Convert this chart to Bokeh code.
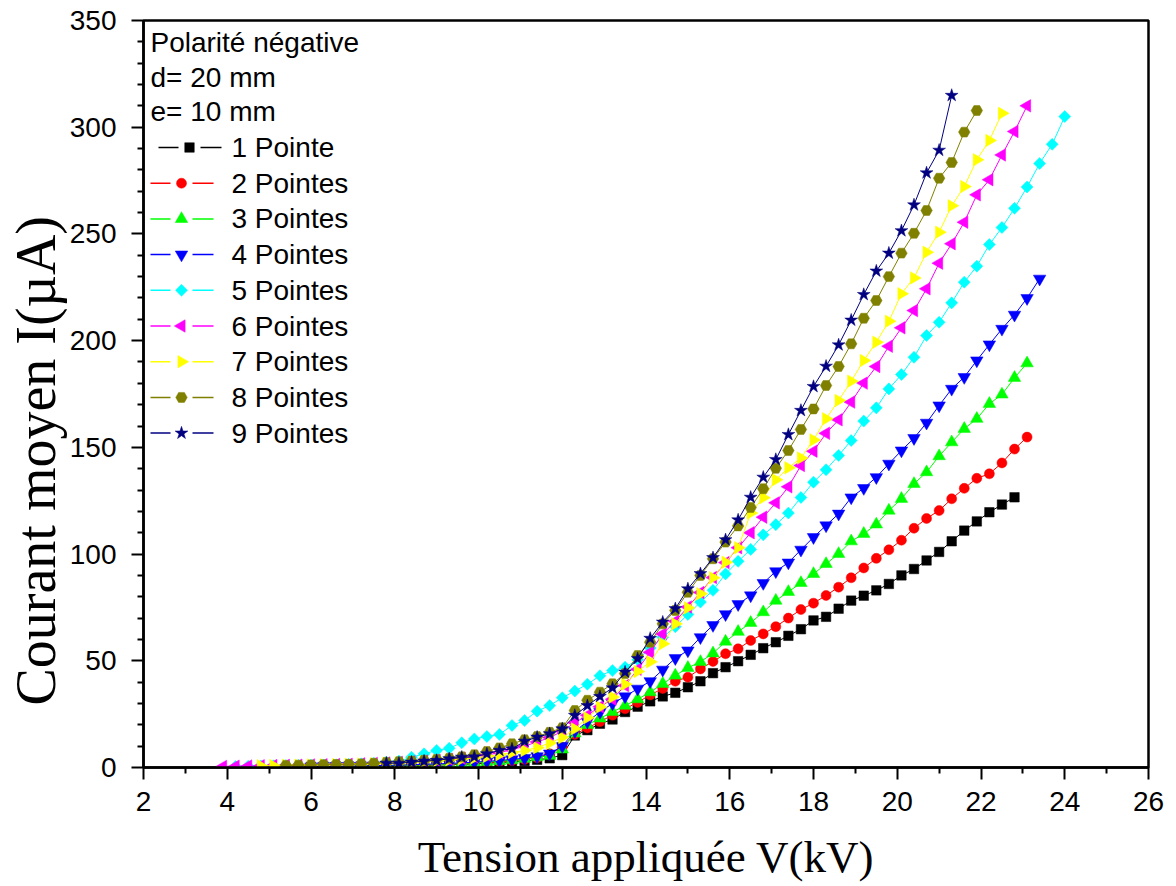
import math
from bokeh.plotting import figure
from bokeh.models import Range1d, FixedTicker, Label, Title
from bokeh.embed import file_html
from bokeh.resources import INLINE

# ---------------- data ----------------
TENSION_KV = [3.9, 4.2, 4.5, 4.8, 5.1, 5.4, 5.7, 6.0, 6.3, 6.6, 6.9, 7.2, 7.5, 7.8,
              8.1, 8.4, 8.7, 9.0, 9.3, 9.6, 9.9, 10.2, 10.5, 10.8, 11.1, 11.4, 11.7,
              12.0, 12.3, 12.6, 12.9, 13.2, 13.5, 13.8, 14.1, 14.4, 14.7, 15.0, 15.3,
              15.6, 15.9, 16.2, 16.5, 16.8, 17.1, 17.4, 17.7, 18.0, 18.3, 18.6, 18.9,
              19.2, 19.5, 19.8, 20.1, 20.4, 20.7, 21.0, 21.3, 21.6, 21.9, 22.2, 22.5,
              22.8, 23.1, 23.4, 23.7, 24.0]

SERIES_NAMES = ["1 Pointe", "2 Pointes", "3 Pointes", "4 Pointes", "5 Pointes",
                "6 Pointes", "7 Pointes", "8 Pointes", "9 Pointes"]
FIRST_KV = [6.0, 6.0, 6.0, 6.0, 4.2, 3.9, 4.8, 5.4, 7.8]

I_1 = [0.3, 0.4, 0.4, 0.5, 0.5, 0.6, 0.7, 0.8, 0.9, 1.0,
       1.1, 1.3, 1.5, 1.7, 2.0, 2.3, 2.7, 3.1, 3.6, 4.3,
       5.8, 15.0, 17.5, 20.5, 22.5, 26.0, 28.5, 31.0, 33.3, 35.0,
       37.6, 40.4, 44.2, 47.0, 49.8, 52.8, 55.9, 58.7, 61.7, 64.8,
       68.9, 70.6, 74.4, 78.2, 80.5, 83.0, 86.0, 90.0, 93.0, 97.0,
       101.0, 106.0, 111.0, 115.3, 119.6, 123.2, 126.6]
I_2 = [0.3, 0.4, 0.5, 0.5, 0.6, 0.7, 0.8, 0.9, 1.0, 1.1,
       1.3, 1.5, 1.7, 2.0, 2.3, 2.7, 3.2, 3.8, 4.6, 6.4,
       9.5, 15.5, 18.5, 21.5, 24.5, 27.5, 30.5, 34.0, 37.0, 40.4,
       42.3, 46.2, 49.7, 53.3, 55.6, 59.5, 62.6, 66.0, 70.0, 74.0,
       77.0, 80.6, 84.5, 88.9, 93.5, 98.0, 102.0, 106.5, 112.1, 116.7,
       120.4, 125.9, 130.8, 135.5, 137.6, 142.7, 149.2, 154.8]
I_3 = [0.3, 0.4, 0.5, 0.6, 0.7, 0.8, 0.9, 1.0, 1.1, 1.2,
       1.4, 1.6, 1.9, 2.2, 2.6, 3.0, 3.5, 4.1, 4.8, 5.5,
       8.5, 16.0, 20.0, 23.0, 26.0, 29.0, 32.0, 35.3, 39.2, 43.1,
       46.7, 49.5, 53.5, 59.0, 63.6, 67.8, 72.8, 78.2, 82.3, 86.5,
       90.7, 95.4, 100.1, 106.0, 109.5, 113.9, 120.4, 125.9, 132.9, 138.4,
       145.9, 152.4, 158.7, 163.4, 170.4, 174.8, 182.6, 189.4]
I_4 = [0.4, 0.5, 0.6, 0.7, 0.8, 0.9, 1.0, 1.1, 1.3, 1.5,
       1.7, 1.9, 2.2, 2.5, 2.9, 3.3, 3.8, 4.4, 5.2, 6.5,
       10.0, 17.0, 21.5, 26.0, 30.0, 33.3, 36.9, 40.4, 45.8, 51.2,
       54.8, 61.0, 66.7, 71.8, 76.5, 80.6, 86.4, 91.9, 96.0, 102.0,
       107.9, 113.4, 118.9, 126.5, 130.9, 136.0, 142.3, 148.5, 154.3, 161.5,
       169.6, 177.4, 182.9, 190.7, 198.2, 205.5, 212.1, 219.9, 229.0]
I_5 = [0.5, 0.6, 0.7, 0.8, 0.9, 1.0, 1.1, 1.2, 1.3, 1.5,
       1.7, 2.0, 2.5, 3.0, 4.8, 6.4, 8.0, 9.0, 11.6, 13.4,
       14.5, 15.5, 19.7, 22.0, 26.4, 29.0, 32.7, 35.8, 39.0, 43.0,
       45.4, 47.0, 50.5, 56.0, 61.0, 66.0, 71.7, 77.5, 83.0, 90.7,
       96.6, 102.2, 109.0, 113.8, 119.2, 126.5, 133.7, 139.5, 146.2, 153.2,
       162.3, 168.5, 177.4, 184.1, 192.2, 202.4, 208.6, 217.7, 227.4, 234.9,
       245.0, 253.0, 262.0, 272.0, 283.0, 292.0, 305.0]
I_6 = [0.5, 0.6, 0.7, 0.8, 0.9, 1.0, 1.1, 1.2, 1.3, 1.4,
       1.5, 1.7, 1.9, 2.1, 2.4, 2.7, 3.0, 3.4, 3.8, 4.3,
       5.0, 5.8, 7.0, 8.3, 10.0, 12.0, 14.0, 17.0, 21.0, 24.5,
       28.5, 32.0, 38.4, 46.0, 54.0, 62.6, 68.5, 75.2, 82.0, 89.0,
       96.0, 103.0, 110.0, 117.3, 124.0, 131.5, 141.5, 148.2, 156.6, 162.9,
       171.2, 180.1, 187.9, 197.4, 206.0, 214.1, 224.3, 236.3, 245.4, 255.5,
       268.3, 275.4, 287.0, 298.0, 310.0]
I_7 = [0.8, 0.9, 1.0, 1.1, 1.2, 1.3, 1.4, 1.5, 1.6, 1.8,
       2.0, 2.2, 2.5, 2.8, 3.1, 3.5, 4.0, 4.5, 5.2, 6.0,
       7.0, 8.0, 9.3, 11.5, 14.0, 18.1, 23.3, 28.3, 33.0, 39.0,
       45.0, 49.5, 58.0, 67.3, 74.8, 81.4, 88.9, 96.2, 103.0, 119.2,
       126.4, 134.8, 140.4, 145.0, 153.5, 163.4, 172.0, 181.0, 190.7, 199.3,
       209.1, 222.0, 229.4, 241.4, 250.8, 263.2, 272.2, 284.7, 293.8, 306.5]
I_8 = [1.0, 1.1, 1.2, 1.3, 1.4, 1.5, 1.7, 2.0, 2.4, 2.7,
       3.0, 3.4, 3.8, 4.3, 5.0, 6.0, 7.5, 9.2, 11.1, 13.0,
       14.5, 16.5, 18.6, 26.7, 31.5, 35.3, 39.2, 44.0, 52.5, 58.7,
       67.3, 73.6, 82.1, 90.0, 97.8, 105.6, 113.2, 121.8, 130.6, 140.2,
       148.5, 158.4, 168.0, 179.0, 187.9, 198.5, 210.5, 218.8, 230.0, 241.0,
       250.3, 261.0, 276.1, 283.5, 297.7, 307.8]
I_9 = [2.0, 2.0, 2.5, 3.0, 3.3, 4.1, 4.8, 5.0, 6.4, 8.0,
       8.7, 12.3, 14.2, 15.8, 18.1, 24.4, 29.0, 33.3, 37.3, 44.7,
       51.0, 60.5, 68.1, 74.4, 83.7, 90.8, 98.3, 106.7, 116.0, 126.6,
       136.0, 144.3, 156.0, 167.3, 178.5, 188.0, 198.0, 209.6, 221.6, 232.6,
       241.0, 251.5, 263.6, 278.6, 289.2, 314.9]
CURRENTS = [I_1, I_2, I_3, I_4, I_5, I_6, I_7, I_8, I_9]

X_TICKS = [2, 4, 6, 8, 10, 12, 14, 16, 18, 20, 22, 24, 26]
X_MINOR = [3, 5, 7, 9, 11, 13, 15, 17, 19, 21, 23, 25]
Y_TICKS = [0, 50, 100, 150, 200, 250, 300, 350]
Y_MINOR = [10, 20, 30, 40, 60, 70, 80, 90, 110, 120, 130, 140, 160, 170, 180, 190,
           210, 220, 230, 240, 260, 270, 280, 290, 310, 320, 330, 340]

HEADER_LINES = ["Polarité négative", "d= 20 mm", "e= 10 mm"]
X_TITLE = "Tension appliquée V(kV)"
Y_TITLE = "Courant moyen I(µA)"

# ---------------- styles / layout ----------------
COLORS = ["#000000", "#FF0000", "#00FF00", "#0000FF", "#00FFFF",
          "#FF00FF", "#FFFF00", "#808000", "#000080"]
MARKERS = ["square", "circle", "triangle", "inverted_triangle", "square",
           "triangle", "triangle", "hex", "star"]
ANGLES = [0, 0, 0, 0, math.pi / 4, math.pi / 2, -math.pi / 2, 0, 0]
SIZES = [9.5, 10, 12.5, 12.5, 8.5, 12.5, 12.5, 11.5, 13.5]

SANS = "Liberation Sans"
SERIF = "Liberation Serif"

X0, X1, Y0, Y1 = 2, 26, 0, 350
FRAME_L, FRAME_T, FRAME_W, FRAME_H = 143, 20, 1005, 747
W, H = 1170, 884

p = figure(width=W, height=H, x_range=Range1d(X0, X1), y_range=Range1d(Y0, Y1),
           output_backend="svg", toolbar_location=None,
           min_border_left=FRAME_L, min_border_right=W - FRAME_L - FRAME_W,
           min_border_top=FRAME_T, min_border_bottom=H - FRAME_T - FRAME_H)
p.grid.visible = False
p.outline_line_color = "black"
p.outline_line_width = 2.5
p.background_fill_color = "white"
p.border_fill_color = "white"


def px_to_x(px):
    return X0 + (px - FRAME_L) * (X1 - X0) / FRAME_W


def py_to_y(py):
    return Y0 + (FRAME_T + FRAME_H - py) * (Y1 - Y0) / FRAME_H


for ax, ticks, minor in ((p.xaxis[0], X_TICKS, X_MINOR), (p.yaxis[0], Y_TICKS, Y_MINOR)):
    ax.ticker = FixedTicker(ticks=ticks, minor_ticks=minor)
    ax.axis_line_width = 2.5
    ax.axis_line_color = "black"
    ax.major_tick_line_width = 2
    ax.minor_tick_line_width = 2
    ax.major_tick_out = 12
    ax.major_tick_in = 0
    ax.minor_tick_out = 6
    ax.minor_tick_in = 0
    ax.major_label_text_font = SANS
    ax.major_label_text_font_size = "28px"
    ax.major_label_text_color = "black"

p.yaxis.major_label_standoff = 15
p.xaxis.major_label_standoff = 12
p.xaxis.axis_label = X_TITLE
p.xaxis.axis_label_text_font = SERIF
p.xaxis.axis_label_text_font_size = "45px"
p.xaxis.axis_label_text_font_style = "normal"
p.xaxis.axis_label_text_color = "black"
p.xaxis.axis_label_standoff = 18

p.add_layout(Title(text=Y_TITLE, align="left", offset=62, standoff=0,
                   text_font=SERIF, text_font_size="56px", text_font_style="normal",
                   text_color="black"), "left")

# data series
for first, cur, col, mk, ang, sz in zip(FIRST_KV, CURRENTS, COLORS, MARKERS, ANGLES, SIZES):
    i0 = min(range(len(TENSION_KV)), key=lambda k: abs(TENSION_KV[k] - first))
    xs = TENSION_KV[i0:i0 + len(cur)]
    p.line(xs, cur, line_color=col, line_width=1)
    p.scatter(xs, cur, marker=mk, angle=ang, size=sz,
              fill_color=col, line_color=col, line_width=0.5)

# legend (Origin style: short line - symbol - short line)
for j, txt in enumerate(HEADER_LINES):
    p.add_layout(Label(x=px_to_x(150), y=py_to_y(42 + 34.5 * j), text=txt,
                       text_font=SANS, text_font_size="28px", text_baseline="middle",
                       text_align="left", text_color="black"))

for i, (name, col, mk, ang, sz) in enumerate(zip(SERIES_NAMES, COLORS, MARKERS, ANGLES, SIZES)):
    yc = py_to_y(147 + 35.7 * i)
    mx = 189 if i == 0 else 181
    p.segment(x0=[px_to_x(mx - 31), px_to_x(mx + 11)], y0=[yc, yc],
              x1=[px_to_x(mx - 11), px_to_x(mx + 32)], y1=[yc, yc],
              line_color=col, line_width=1.5)
    p.scatter([px_to_x(mx)], [yc], marker=mk, angle=ang, size=sz,
              fill_color=col, line_color=col, line_width=0.5)
    p.add_layout(Label(x=px_to_x(231), y=yc, text=name, text_font=SANS,
                       text_font_size="28px", text_baseline="middle",
                       text_align="left", text_color="black"))

open("out.html", "w").write(file_html(p, INLINE))
